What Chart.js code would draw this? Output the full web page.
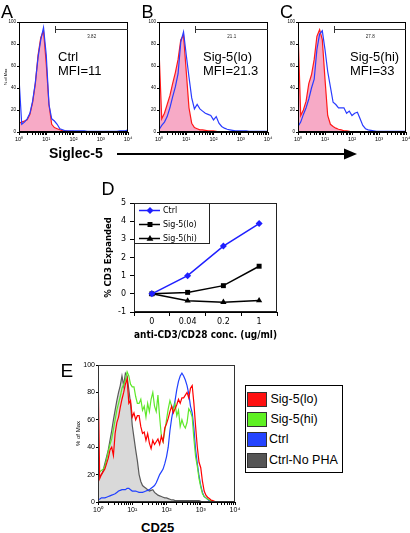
<!DOCTYPE html>
<html>
<head>
<meta charset="utf-8">
<script src="https://cdn.jsdelivr.net/npm/chart.js"></script>
<style>
  html, body { margin: 0; padding: 0; background: #fff; }
  #fig { position: relative; width: 410px; height: 533px; overflow: hidden; font-family: "Liberation Sans", Arial, sans-serif; color: #000; }
  #fig canvas, #fig .t, #fig svg, #keyE { position: absolute; }
  .t { white-space: nowrap; }
  .panel { font-size: 18px; line-height: 18px; }
  .note { font-size: 13px; line-height: 13px; }
  .axlab { font-size: 14px; line-height: 14px; font-weight: bold; }
  #keyE { left: 245px; top: 385px; width: 98px; height: 88px; box-sizing: border-box; border: 1.5px solid #000; background: #fff; }
  #keyE .sw { position: absolute; left: 0.5px; width: 20px; height: 15px; box-sizing: border-box; border: 1.5px solid #333; }
  #keyE .lb { position: absolute; left: 23px; font-size: 12.5px; line-height: 13px; white-space: nowrap; }
</style>
</head>
<body>
<div id="fig">
  <canvas id="cA" width="138" height="146" style="left:0px;top:0px"></canvas>
  <canvas id="cB" width="138" height="146" style="left:140px;top:0px"></canvas>
  <canvas id="cC" width="131" height="146" style="left:279px;top:0px"></canvas>
  <canvas id="cD" width="190" height="150" style="left:101px;top:195px"></canvas>
  <canvas id="cE" width="173" height="161" style="left:72px;top:355px"></canvas>

  <div class="t panel" style="left:1px;top:2.6px">A</div>
  <div class="t panel" style="left:141.6px;top:2.6px">B</div>
  <div class="t panel" style="left:280px;top:2.6px">C</div>
  <div class="t panel" style="left:101.6px;top:179.6px">D</div>
  <div class="t panel" style="left:60.6px;top:360.5px;font-size:19px;line-height:19px">E</div>

  <div class="t note" style="left:58px;top:50px">Ctrl</div>
  <div class="t note" style="left:58px;top:64.3px">MFI=11</div>
  <div class="t note" style="left:203px;top:50px">Sig-5(lo)</div>
  <div class="t note" style="left:203px;top:64.3px">MFI=21.3</div>
  <div class="t note" style="left:350px;top:50px">Sig-5(hi)</div>
  <div class="t note" style="left:350px;top:64.3px">MFI=33</div>

  <div class="t axlab" style="left:49px;top:146px">Siglec-5</div>
  <svg width="250" height="16" style="left:110px;top:145.5px">
    <line x1="7" y1="8" x2="236" y2="8" stroke="#000" stroke-width="1.8"/>
    <polygon points="234,2.5 247,8 234,13.5" fill="#000"/>
  </svg>

  <div class="t axlab" style="left:141px;top:521px;font-size:13px;line-height:13px">CD25</div>

  <div id="keyE">
    <div class="sw" style="top:5.5px;background:#ff1010"></div><div class="lb" style="top:6.5px;left:24.5px">Sig-5(lo)</div>
    <div class="sw" style="top:25.5px;background:#5ef022"></div><div class="lb" style="top:26.5px;left:24.5px">Sig-5(hi)</div>
    <div class="sw" style="top:45.5px;background:#2444ff"></div><div class="lb" style="top:47px">Ctrl</div>
    <div class="sw" style="top:66.5px;background:#555555"></div><div class="lb" style="top:67.5px">Ctrl-No PHA</div>
  </div>
</div>

<script>
// channel positions (decades of fluorescence, 10^0 .. 10^4)
const binsABC = [0,0.1,0.2,0.3,0.4,0.5,0.6,0.7,0.8,0.9,1,1.1,1.2,1.3,1.4,1.5,1.6,1.7,1.8,1.9,2,2.1,2.2,2.3,2.4,2.5,2.6,2.7,2.8,2.9,3,3.1,3.2,3.3,3.4,3.5,3.6,3.7,3.8,3.9,4];
const binsE = [0,0.05,0.1,0.15,0.2,0.25,0.3,0.35,0.4,0.45,0.5,0.55,0.6,0.65,0.7,0.75,0.8,0.85,0.9,0.95,1,1.05,1.1,1.15,1.2,1.25,1.3,1.35,1.4,1.45,1.5,1.55,1.6,1.65,1.7,1.75,1.8,1.85,1.9,1.95,2,2.05,2.1,2.15,2.2,2.25,2.3,2.35,2.4,2.45,2.5,2.55,2.6,2.65,2.7,2.75,2.8,2.85,2.9,2.95,3,3.05,3.1,3.15,3.2,3.25,3.3,3.35,3.4,3.45,3.5,3.55,3.6,3.65,3.7,3.75,3.8,3.85,3.9,3.95,4];

// panel A-C: % of max, red = isotype (filled), blue = Siglec-5
const redA  = [8,9,10,11,16,27,44,70,86,92, 62,25,7,4,3,2,1,1,0.5,0.5, 0.5,0,0,0,0,0,0,0,0,0, 0,0,0,0,0,0,0,0,0,0, 0];
const blueA = [49,7,9,12,17,28,45,68,84,95, 70,25,12,10,7,3,2,1,1,1, 1,1,1,1,1,0.5,0.5,0.5,0.5,0.5, 0.5,0.5,0.5,0.5,0.5,0.5,0.5,1,1,1, 2];
const redB  = [75,12,17,25,33,44,54,66,84,88, 55,22,8,4,3,2,2,1.5,1,1, 1,0.5,0,0,0,0,0,0,0,0, 0,0,0,0,0,0,0,0,0,0, 0];
const blueB = [2,6,9,14,22,32,41,53,82,91, 70,50,31,21,25,21,19,17,16,15, 11,14,8,5,3.5,2.5,2,1.5,1,1, 1,1,1,0.5,0.5,0.5,0.5,0.5,0.5,0.5, 0.5];
const redC  = [93,15,20,28,44,52,66,87,93,84, 48,15,7,5,3.5,2.5,2,1,1,0.5, 0,0,0,0,0,0,0,0,0,0, 0,0,0,0,0,0,0,0,0,0, 0];
const blueC = [5,9,16,22,30,40,48,75,89,92, 75,55,41,27,25,22,22,22,17,19, 15,17,18,12,6,3,2,1.5,1,0.5, 0.5,0.5,0.5,0.5,0.5,0.5,0.5,0.5,0.5,0.5, 0.5];
const gateStart = 21;
const gateLabels = ['3.82', '21.1', '27.8'];

// panel D
const concLabels = ['0', '0.04', '0.2', '1'];
const ctrlD  = [0, 1.0, 2.63, 3.87];
const sigLoD = [0, 0.08, 0.45, 1.52];
const sigHiD = [0, -0.38, -0.46, -0.37];

// panel E: CD25
const sigLoE = [100,17,20,22,24,28,32,38,40,34, 50,58,62,69,75,80,86,90,72,74, 62,65,60,63,63,55,50,51,45,50, 43,39,45,42,44,46,42,48,44,54, 57,61,66,70,65,68,71,75,72,76, 76,78,80,76,83,85,72,55,40,29, 25,15,8,5,3.5,2.5,1.5,1,0.5,0, 0,0,0,0,0,0,0,0,0,0, 0];
const sigHiE = [18,22,23,24,26,31,37,42,46,53, 60,67,72,77,83,86,89,95,92,86, 84,84,77,72,72,75,67,70,62,72, 66,75,80,70,66,78,62,48,44,52, 60,68,74,70,67,72,63,67,55,60, 56,54,58,68,66,62,46,33,26,17, 11,6,4,3,2,1.5,1,0.5,0,0, 0,0,0,0,0,0,0,0,0,0, 0];
const ctrlE  = [2,2,3,3,3,3.5,4,4.5,5,5.5, 6,7,8,8.5,9,9,9,10,10,9, 8,8,8,7.5,7,7,7,7.5,8,8.5, 9,10,11,12,14,17,20,22,24,28, 33,40,52,61,68,74,82,88,92,94, 92,89,85,79,70,65,54,38,28,19, 12,7,4,3,2,1,0.5,0,0,0, 0,0,0,0,0,0,0,0,0,0, 0];
const noPhaE = [20,19,20,23,28,33,38,45,52,60, 67,74,80,85,92,85,94,92,82,72, 56,47,38,30,20,15,12,11,10,9, 8,8.5,9,7,6,5,4.5,4,3.5,3, 3,2.5,2,1.5,1.5,1,1,1,1,1, 1,1,1,1,1,1,1,1,1,1, 0.5,0,0,0,0,0,0,0,0,0, 0,0,0,0,0,0,0,0,0,0, 0];

const pts = (bins, vals) => bins.map((d, i) => ({ x: Math.pow(10, d), y: vals[i] }));

const powLabels = { 1: '10\u2070', 10: '10\u00b9', 100: '10\u00b2', 1000: '10\u00b3', 10000: '10\u2074' };
const logTicks = [];
for (let p = 1; p < 10000; p *= 10) for (let k = 1; k < 10; k++) logTicks.push(k * p);
logTicks.push(10000);

const frame = {
  id: 'frame',
  afterDatasetsDraw(chart, args, opts) {
    const { ctx, chartArea: a } = chart;
    ctx.save();
    ctx.strokeStyle = opts.color || '#000';
    ctx.lineWidth = 1;
    ctx.strokeRect(Math.round(a.left) + 0.5, Math.round(a.top) + 0.5, Math.round(a.right - a.left) - 1, Math.round(a.bottom - a.top) - 1);
    ctx.restore();
  }
};

const gate = {
  id: 'gate',
  afterDatasetsDraw(chart, args, opts) {
    if (!opts || !opts.label) return;
    const { ctx, chartArea: a, scales } = chart;
    const x0 = Math.round(scales.x.getPixelForValue(opts.from)) + 0.5;
    const y = Math.round(scales.y.getPixelForValue(opts.level)) + 0.5;
    ctx.save();
    ctx.strokeStyle = '#333';
    ctx.lineWidth = 1;
    ctx.beginPath();
    ctx.moveTo(x0, y); ctx.lineTo(a.right, y);
    ctx.moveTo(x0, y - 3.5); ctx.lineTo(x0, y + 3.5);
    ctx.stroke();
    ctx.fillStyle = '#222';
    ctx.font = '4.5px "Liberation Sans"';
    ctx.textAlign = 'center';
    ctx.textBaseline = 'middle';
    ctx.fillText(opts.label, (x0 + a.right) / 2, y + 7.5);
    ctx.restore();
  }
};

function histogram(id, datasets, o) {
  const fam = '"Liberation Sans", Arial, sans-serif';
  return new Chart(document.getElementById(id), {
    type: 'line',
    data: { datasets },
    options: {
      responsive: false,
      animation: false,
      layout: { padding: { top: o.top, right: o.right, left: 0, bottom: 0 } },
      elements: { point: { radius: 0 }, line: { tension: 0, borderWidth: 1.2 } },
      plugins: {
        legend: { display: false },
        tooltip: { enabled: false },
        gate: o.gate || {},
        frame: { color: o.frameColor || '#000' }
      },
      scales: {
        x: {
          type: 'logarithmic', min: 1, max: 10000,
          afterBuildTicks: s => { s.ticks = logTicks.map(v => ({ value: v })); },
          afterFit: s => { s.height = o.xh; s.paddingLeft = 0; s.paddingRight = 0; },
          ticks: { autoSkip: false, maxRotation: 0, padding: 1, color: '#000',
                   font: { family: fam, size: o.xfont }, callback: v => powLabels[v] || '' },
          grid: { drawOnChartArea: false, tickLength: 3, color: '#000' },
          border: { color: '#000' }
        },
        y: {
          min: 0, max: 100,
          afterFit: s => { s.width = o.yw; s.paddingTop = 0; s.paddingBottom = 0; },
          ticks: { stepSize: 20, padding: 1, color: '#000', font: { family: fam, size: o.yfont } },
          grid: { drawOnChartArea: false, tickLength: 2, color: '#000' },
          border: { color: '#000' },
          title: { display: !!o.ytitle, text: '% of Max', color: '#000',
                   font: { family: fam, size: o.ytitleSize || 4 }, padding: { top: o.ytitlePad || 0, bottom: 0 } }
        }
      }
    },
    plugins: [frame, gate]
  });
}

const pink = '#f7aac6';
const redLine = '#ff1a1a';
const blueLine = '#2a3cff';

const abcSets = [[blueA, redA], [blueB, redB], [blueC, redC]];
['cA', 'cB', 'cC'].forEach((id, i) => {
  histogram(id, [
    { data: pts(binsABC, abcSets[i][0]), borderColor: blueLine, fill: false },
    { data: pts(binsABC, abcSets[i][1]), borderColor: redLine, backgroundColor: pink, fill: 'origin' }
  ], {
    top: 22, right: i === 2 ? 4 : 10, xh: 14, yw: 19, xfont: 5.5, yfont: 4.5,
    ytitle: i === 0, ytitleSize: 4, ytitlePad: 3.5,
    gate: { from: gateStart, level: 93.6, label: gateLabels[i] }
  });
});

histogram('cE', [
  { data: pts(binsE, sigLoE), borderColor: '#ff0000', fill: false },
  { data: pts(binsE, sigHiE), borderColor: '#5ee82a', fill: false },
  { data: pts(binsE, ctrlE), borderColor: '#2040ff', fill: false },
  { data: pts(binsE, noPhaE), borderColor: '#5a5a5a', backgroundColor: '#d9d9d9', fill: 'origin' }
], {
  top: 10, right: 10, xh: 14, yw: 26, xfont: 7, yfont: 7,
  ytitle: true, ytitleSize: 6, ytitlePad: 2.4, frameColor: '#333'
});

// legend drawn inside the plot area of panel D
function marker(ctx, style, x, y, r, color) {
  ctx.fillStyle = color;
  ctx.beginPath();
  if (style === 'rectRot') {
    ctx.moveTo(x, y - r); ctx.lineTo(x + r, y); ctx.lineTo(x, y + r); ctx.lineTo(x - r, y);
  } else if (style === 'rect') {
    const s = r * Math.SQRT1_2;
    ctx.rect(x - s, y - s, 2 * s, 2 * s);
  } else {
    ctx.moveTo(x, y - r); ctx.lineTo(x + r * 0.95, y + r * 0.6); ctx.lineTo(x - r * 0.95, y + r * 0.6);
  }
  ctx.closePath();
  ctx.fill();
}

const lineKey = {
  id: 'lineKey',
  afterDraw(chart) {
    const { ctx, chartArea: a } = chart;
    const left = Math.round(a.left), top = Math.round(a.top);
    ctx.save();
    ctx.fillStyle = '#fff';
    ctx.fillRect(left, top, 75, 40);
    ctx.strokeStyle = '#222';
    ctx.lineWidth = 1;
    ctx.strokeRect(left + 0.5, top + 0.5, 75, 40);
    chart.data.datasets.forEach((ds, i) => {
      const y = top + 7.5 + i * 14;
      ctx.strokeStyle = ds.borderColor;
      ctx.lineWidth = 1.5;
      ctx.beginPath(); ctx.moveTo(left + 5, y); ctx.lineTo(left + 26, y); ctx.stroke();
      marker(ctx, ds.pointStyle, left + 16, y, ds.pointRadius, ds.borderColor);
      ctx.fillStyle = '#000';
      ctx.font = '8px "DejaVu Sans"';
      ctx.textBaseline = 'middle';
      ctx.fillText(ds.label, left + 29, y + 0.5);
    });
    ctx.restore();
  }
};

const famD = '"DejaVu Sans", Verdana, sans-serif';
new Chart(document.getElementById('cD'), {
  type: 'line',
  data: {
    labels: concLabels,
    datasets: [
      { label: 'Ctrl', data: ctrlD, borderColor: '#1f1fff', backgroundColor: '#1f1fff', pointStyle: 'rectRot', pointRadius: 3.5 },
      { label: 'Sig-5(lo)', data: sigLoD, borderColor: '#000', backgroundColor: '#000', pointStyle: 'rect', pointRadius: 3.5 },
      { label: 'Sig-5(hi)', data: sigHiD, borderColor: '#000', backgroundColor: '#000', pointStyle: 'triangle', pointRadius: 3.6 }
    ]
  },
  options: {
    responsive: false,
    animation: false,
    layout: { padding: { top: 8, right: 14, left: 0, bottom: 0 } },
    elements: { line: { tension: 0, borderWidth: 1.5 }, point: { borderWidth: 0 } },
    plugins: { legend: { display: false }, tooltip: { enabled: false }, frame: { color: '#222' } },
    scales: {
      x: {
        offset: true,
        afterFit: s => { s.height = 33; s.paddingLeft = 0; s.paddingRight = 0; },
        grid: { offset: true, drawOnChartArea: false, tickLength: 4, color: '#000' },
        border: { color: '#000' },
        ticks: { padding: 1, color: '#000', font: { family: famD, size: 8 } },
        title: { display: true, text: 'anti-CD3/CD28 conc. (ug/ml)', color: '#000',
                 font: { family: famD, size: 9.8, weight: 'bold' }, padding: { top: 0, bottom: 4 } }
      },
      y: {
        min: -1, max: 5,
        afterFit: s => { s.width = 33; s.paddingTop = 0; s.paddingBottom = 0; },
        grid: { drawOnChartArea: false, tickLength: 4, color: '#000' },
        border: { color: '#000' },
        ticks: { stepSize: 1, padding: 4, color: '#000', font: { family: famD, size: 8 } },
        title: { display: true, text: '% CD3 Expanded', color: '#000',
                 font: { family: famD, size: 8.5, weight: 'bold' }, padding: { top: 2.4, bottom: 0 } }
      }
    }
  },
  plugins: [frame, lineKey]
});
</script>
</body>
</html>
